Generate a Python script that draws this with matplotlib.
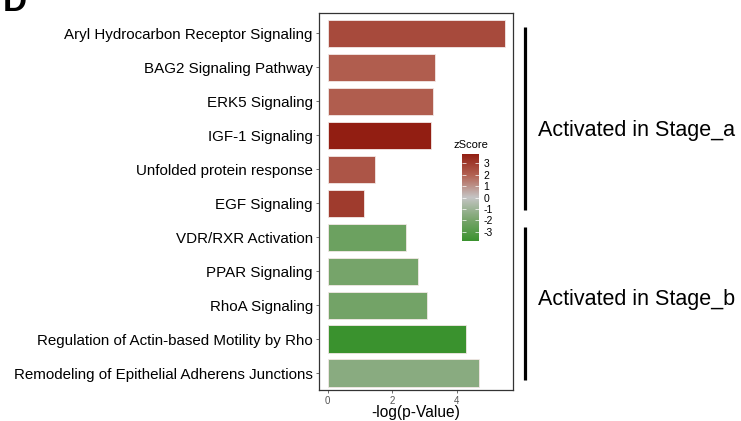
import matplotlib
matplotlib.use("Agg")
import matplotlib.pyplot as plt
import numpy as np
from matplotlib.colors import LinearSegmentedColormap, Normalize
import matplotlib.cm as cm
import matplotlib.transforms as mtransforms

plt.rcParams['font.family'] = ['Liberation Sans', 'DejaVu Sans']

# data
pathways = [
    "Aryl Hydrocarbon Receptor Signaling",
    "BAG2 Signaling Pathway",
    "ERK5 Signaling",
    "IGF-1 Signaling",
    "Unfolded protein response",
    "EGF Signaling",
    "VDR/RXR Activation",
    "PPAR Signaling",
    "RhoA Signaling",
    "Regulation of Actin-based Motility by Rho",
    "Remodeling of Epithelial Adherens Junctions",
]
neg_log_p = [5.49, 3.32, 3.26, 3.21, 1.47, 1.12, 2.44, 2.80, 3.08, 4.29, 4.68]
zscore = [2.6, 2.1, 2.1, 3.8, 2.3, 3.0, -2.3, -2.0, -2.1, -3.8, -1.5]
groups = ["Activated in Stage_a"] * 6 + ["Activated in Stage_b"] * 5
cbar_ticks = [-3, -2, -1, 0, 1, 2, 3]

cmap = LinearSegmentedColormap.from_list(
    "zs", [(0.0, "#3a922e"), (0.25, "#7aa56e"), (0.5, "#c4c4c4"),
           (0.75, "#b36455"), (1.0, "#921e12")])
norm = Normalize(vmin=-3.8, vmax=3.8)

fig = plt.figure(figsize=(7.41, 4.21), dpi=100)
ax = fig.add_axes([319 / 741, 1 - 390 / 421, 194 / 741, 377 / 421])

ypos = np.arange(len(pathways))
ax.barh(ypos, neg_log_p, height=0.8, color=cmap(norm(np.array(zscore))),
        edgecolor="#f2e8e6", linewidth=0.6)
ax.set_ylim(len(pathways) - 0.5, -0.6)
ax.set_xlim(-0.27, 5.74)
ax.set_yticks(ypos)
ax.set_yticklabels(pathways, fontsize=10.9, color="black")
ax.set_xticks([0, 2, 4])
ax.set_xticklabels(["0", "2", "4"], fontsize=7, color="#555555")
ax.tick_params(axis="both", length=2.5, width=0.6, color="#555555", pad=2)
ax.set_xlabel("-log(p-Value)", fontsize=11.2, labelpad=-1)
for s in ax.spines.values():
    s.set_linewidth(0.9)
    s.set_color("#333333")

# group brackets
trans = mtransforms.blended_transform_factory(ax.transAxes, ax.transData)
bracket_pad = [(0.18, 0.2), (0.3, 0.2)]
text_shift = [0.35, -0.15]
for k, g in enumerate(["Activated in Stage_a", "Activated in Stage_b"]):
    idx = [i for i, gg in enumerate(groups) if gg == g]
    lo, hi = min(idx), max(idx)
    ax.plot([1.062, 1.062], [lo - bracket_pad[k][0], hi + bracket_pad[k][1]],
            color="black", lw=2.3, transform=trans, clip_on=False,
            solid_capstyle="butt")
    ax.text(1.13, (lo + hi) / 2 + text_shift[k], g, transform=trans,
            fontsize=15.5, va="center", ha="left")

# colorbar
cax = fig.add_axes([462 / 741, 1 - 241 / 421, 17 / 741, 87 / 421])
cb = fig.colorbar(cm.ScalarMappable(norm=norm, cmap=cmap), cax=cax,
                  ticks=cbar_ticks)
cb.outline.set_visible(False)
cax.tick_params(axis="y", which="both", left=True, right=True, direction="in",
                color="white", length=3, width=0.5, labelsize=7.5, pad=3)
cax.set_yticklabels([str(t) for t in cbar_ticks])
cax.set_title("zScore", fontsize=8, pad=4)

fig.text(0.004, 1 - 11 / 421, "D", fontsize=24, fontweight="bold",
         va="baseline", ha="left")

fig.savefig("out.png", dpi=100)
